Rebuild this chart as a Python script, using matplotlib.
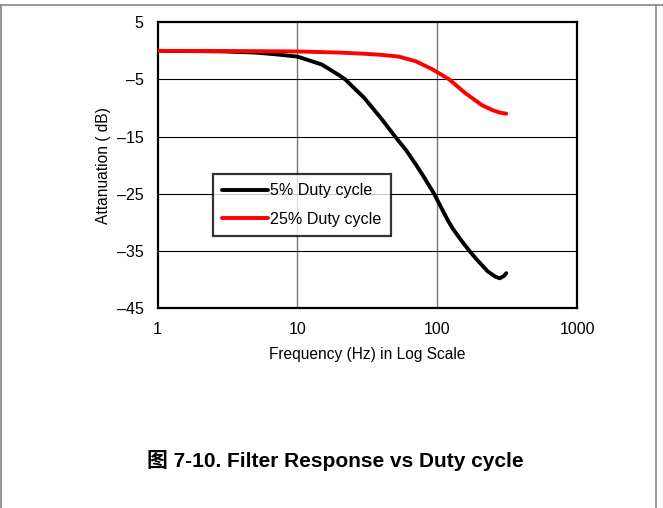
import matplotlib
matplotlib.use("Agg")
import matplotlib.pyplot as plt
from matplotlib.lines import Line2D

# Attenuation (Hz, dB)
freq_5 = [1, 2, 3, 5, 7, 10, 15, 20, 22, 30, 40, 50, 60, 70, 80, 95, 120, 130,
          150, 170, 190, 230, 260, 280, 300, 312]
att_5 = [0, -0.05, -0.1, -0.3, -0.6, -1.0, -2.4, -4.3, -5.0, -8.2, -11.9, -15.0,
         -17.4, -19.8, -22.0, -25.0, -29.8, -31.2, -33.3, -35.0, -36.4, -38.6,
         -39.5, -39.8, -39.4, -38.9]

freq_25 = [1, 5, 10, 20, 30, 40, 53, 70, 92, 122, 159, 209, 250, 280, 312]
att_25 = [0, -0.05, -0.1, -0.3, -0.5, -0.7, -1.0, -1.8, -3.2, -5.0, -7.4, -9.5,
          -10.4, -10.8, -11.0]

x_ticks = [1, 10, 100, 1000]
x_ticklabels = ["1", "10", "100", "1000"]
y_ticks = [5, -5, -15, -25, -35, -45]
y_ticklabels = ["5", "\u20135", "\u201315", "\u201325", "\u201335", "\u201345"]

plt.rcParams['font.family'] = ['Liberation Sans', 'Noto Sans CJK SC', 'DejaVu Sans']

fig = plt.figure(figsize=(6.63, 5.08), dpi=100)
ax = fig.add_axes([0.2376, 0.3937, 0.6327, 0.5624])

ax.plot(freq_5, att_5, color='black', lw=2.8, label='5% Duty cycle',
        solid_capstyle='round', solid_joinstyle='round', zorder=3)
ax.plot(freq_25, att_25, color='#ff0000', lw=2.8, label='25% Duty cycle',
        solid_capstyle='round', solid_joinstyle='round', zorder=3)

ax.set_xscale('log')
ax.set_xlim(1, 1000)
ax.set_ylim(-45, 5)
ax.set_xticks(x_ticks)
ax.set_xticklabels(x_ticklabels)
ax.minorticks_off()
ax.set_yticks(y_ticks)
ax.set_yticklabels(y_ticklabels)
ax.tick_params(length=0, labelsize=11.5)
ax.tick_params(axis='x', pad=10)
ax.tick_params(axis='y', pad=10)

# grid: gray verticals, black horizontals
for f in [10, 100]:
    ax.axvline(f, color='#777777', lw=1.0, zorder=1)
for a in [-5, -15, -25, -35]:
    ax.axhline(a, color='black', lw=0.8, zorder=1)

for s in ax.spines.values():
    s.set_linewidth(1.6)

ax.set_xlabel('Frequency (Hz) in Log Scale', fontsize=11.2, labelpad=7)
ax.set_ylabel('Attanuation ( dB)', fontsize=11.2, labelpad=4)

leg = ax.legend(loc='upper left', bbox_to_anchor=(0.132, 0.469), fontsize=11.6,
                frameon=True, fancybox=False, handlelength=2.86,
                handletextpad=0.12, labelspacing=0.85, borderpad=0.58,
                borderaxespad=0)
leg.get_frame().set_edgecolor('black')
leg.get_frame().set_linewidth(1.6)

fig.text(0.506, 0.093, '图 7-10. Filter Response vs Duty cycle', ha='center',
         va='center', fontsize=15, fontweight='bold')

# page frame lines
fig.add_artist(Line2D([0, 1], [1 - 4.5 / 508] * 2, color='#888888', lw=1.2))
fig.add_artist(Line2D([0.5 / 663] * 2, [0, 1 - 4.5 / 508], color='#888888', lw=1.2))
fig.add_artist(Line2D([655.5 / 663] * 2, [0, 1 - 4.5 / 508], color='#888888', lw=1.2))

fig.savefig('out.png', dpi=100)
